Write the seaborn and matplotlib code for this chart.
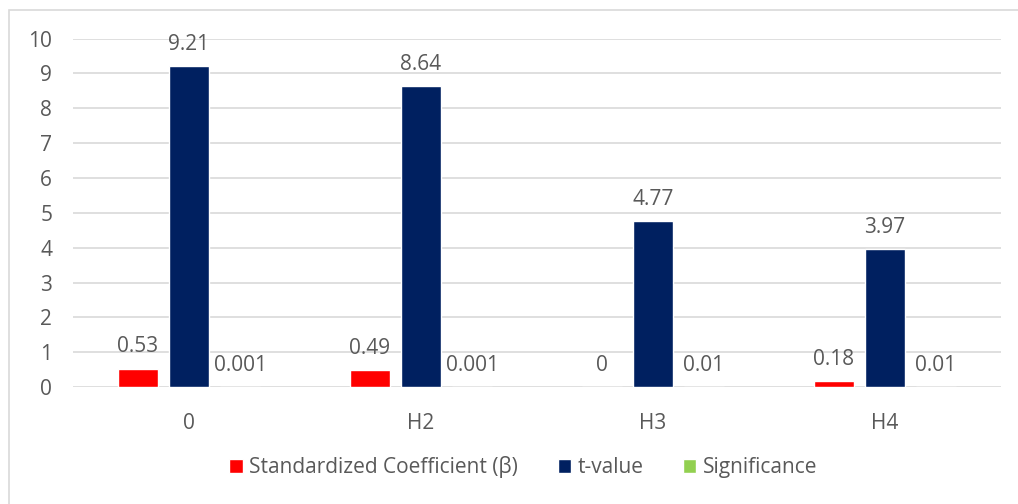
import matplotlib
matplotlib.use("Agg")
import matplotlib.pyplot as plt
import seaborn as sns
import pandas as pd

sns.set_theme(style="white")
plt.rcParams['font.family'] = ['Open Sans', 'DejaVu Sans']

# data
hypotheses = ['0', 'H2', 'H3', 'H4']
series = ['Standardized Coefficient (β)', 't-value', 'Significance']
beta = [0.53, 0.49, 0, 0.18]
t_value = [9.21, 8.64, 4.77, 3.97]
significance = [0.001, 0.001, 0.01, 0.01]
colors = ['#ff0000', '#002060', '#92d050']

df = pd.DataFrame({
    'hyp': hypotheses * 3,
    'series': [series[0]] * 4 + [series[1]] * 4 + [series[2]] * 4,
    'value': beta + t_value + significance,
})

text_col = '#595959'
grid_col = '#d9d9d9'
fs = 15

fig = plt.figure(figsize=(10.18, 5.04), dpi=100)
ax = fig.add_axes([0.0717, 0.232, 0.9116, 0.6916])

sns.barplot(data=df, x='hyp', y='value', hue='series', order=hypotheses,
            hue_order=series, palette=colors, width=0.66, gap=0.22,
            saturation=1, errorbar=None, ax=ax)

for cont in ax.containers:
    ax.bar_label(cont, fmt='%g', padding=8, color=text_col, fontsize=fs)

ax.set_ylim(0, 10)
ax.set_yticks(range(0, 11))
ax.yaxis.grid(True, color=grid_col, lw=1.2)
ax.set_axisbelow(True)
for s in ax.spines.values():
    s.set_visible(False)
ax.set_xlabel('')
ax.set_ylabel('')
ax.tick_params(axis='y', length=0, pad=15, labelsize=fs, labelcolor=text_col)
ax.tick_params(axis='x', length=0, pad=19, labelsize=fs, labelcolor=text_col)

handles, labels = ax.get_legend_handles_labels()
ax.legend_.remove()
fig.legend(handles, labels, loc='center', bbox_to_anchor=(0.514, 0.073),
           ncol=3, frameon=False, fontsize=fs, labelcolor=text_col,
           handlelength=0.65, handleheight=0.65, handletextpad=0.3,
           columnspacing=1.9)

# chart area border
fig.patches.append(plt.Rectangle((0.0088, -0.1), 1.2, 1.081,
                                 transform=fig.transFigure, fill=False,
                                 edgecolor=grid_col, lw=1.2))

fig.savefig('out.png', dpi=100)
